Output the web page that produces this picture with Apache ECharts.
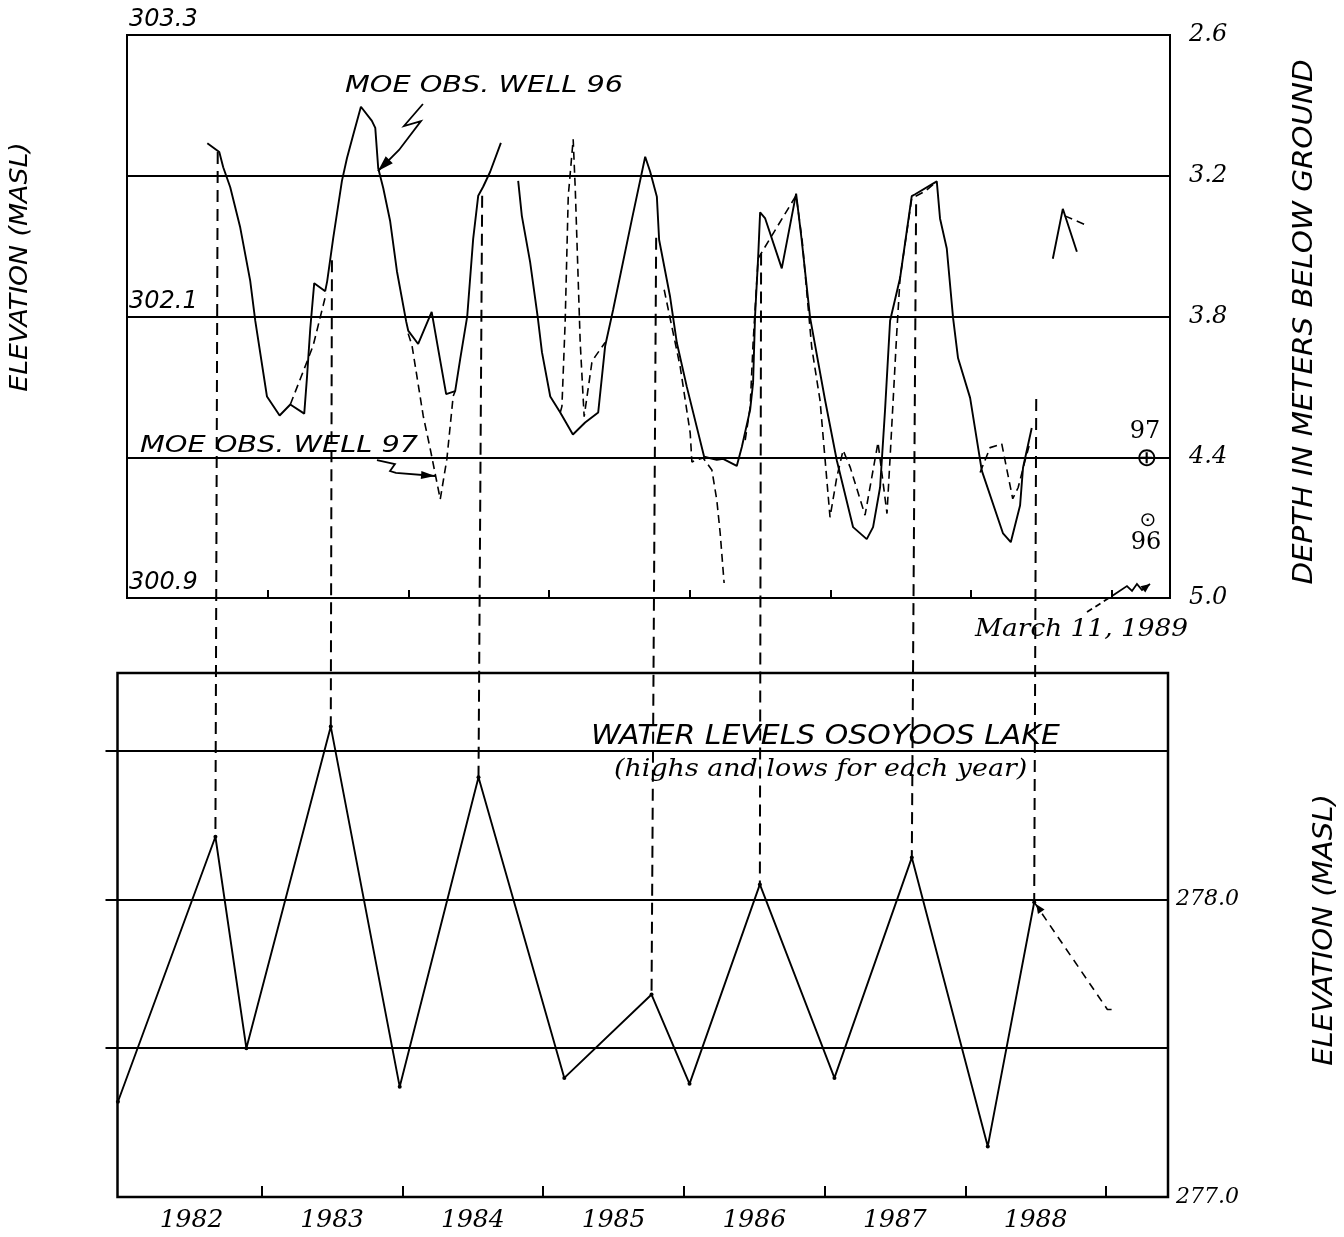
<!DOCTYPE html>
<html><head><meta charset="utf-8">
<script src="https://cdn.jsdelivr.net/npm/echarts@6/dist/echarts.min.js"></script>
<style>html,body{margin:0;padding:0;background:#fff}#c{width:1344px;height:1237px}</style>
</head><body><div id="c"></div>
<script>
// ---------- DATA (year, depth below ground in m) ----------
const well96A = [[1982.571,3.061],[1982.656,3.099],[1982.684,3.164],[1982.734,3.249],[1982.805,3.421],[1982.876,3.648],[1982.912,3.819],[1982.995,4.141],[1983.085,4.222],[1983.161,4.175],[1983.260,4.214],[1983.279,4.064],[1983.303,3.850],[1983.331,3.658],[1983.409,3.692],[1983.423,3.650],[1983.466,3.466],[1983.528,3.222],[1983.564,3.124],[1983.608,3.026],[1983.663,2.906],[1983.741,2.966],[1983.765,2.996],[1983.786,3.168],[1983.822,3.253],[1983.871,3.394],[1983.919,3.607],[1983.985,3.822],[1983.999,3.860],[1984.070,3.917],[1984.166,3.780],[1984.212,3.938],[1984.269,4.131],[1984.333,4.118],[1984.369,3.981],[1984.419,3.798],[1984.461,3.469],[1984.497,3.285],[1984.532,3.247],[1984.582,3.183],[1984.658,3.060]];
const well96B = [[1984.781,3.222],[1984.807,3.371],[1984.866,3.568],[1984.920,3.803],[1984.950,3.952],[1985.009,4.141],[1985.080,4.209],[1985.170,4.303],[1985.257,4.252],[1985.350,4.209],[1985.399,3.927],[1985.456,3.771],[1985.589,3.387],[1985.684,3.119],[1985.719,3.182],[1985.767,3.290],[1985.783,3.473],[1985.861,3.716],[1985.909,3.912],[1985.980,4.100],[1986.103,4.398],[1986.193,4.411],[1986.238,4.407],[1986.335,4.437],[1986.371,4.356],[1986.430,4.198],[1986.451,4.083],[1986.465,3.799],[1986.487,3.548],[1986.501,3.356],[1986.537,3.382],[1986.655,3.595],[1986.757,3.276],[1986.797,3.476],[1986.856,3.804],[1986.963,4.157],[1987.046,4.413],[1987.162,4.698],[1987.259,4.749],[1987.304,4.698],[1987.354,4.528],[1987.389,4.200],[1987.425,3.818],[1987.496,3.636],[1987.579,3.287],[1987.603,3.279],[1987.757,3.224],[1987.780,3.382],[1987.828,3.510],[1987.873,3.807],[1987.908,3.977],[1987.994,4.147],[1988.077,4.457],[1988.228,4.725],[1988.283,4.762],[1988.349,4.606],[1988.370,4.445],[1988.432,4.275]];
const well96C = [[1988.582,3.554],[1988.653,3.341],[1988.753,3.524]];
const well97A = [[1983.161,4.175],[1983.253,4.034],[1983.324,3.923],[1983.395,3.752],[1983.416,3.701]];
const well97B = [[1983.999,3.873],[1984.026,3.923],[1984.106,4.224],[1984.156,4.365],[1984.227,4.579],[1984.274,4.408],[1984.319,4.139],[1984.333,4.118]];
const well97C = [[1985.080,4.209],[1985.092,4.183],[1985.115,3.824],[1985.137,3.287],[1985.172,3.045],[1985.187,3.258],[1985.222,3.911],[1985.250,4.227],[1985.305,3.996],[1985.328,3.971],[1985.399,3.911]];
const well97D = [[1985.819,3.686],[1985.933,4.015],[1986.004,4.297],[1986.016,4.420],[1986.051,4.411],[1986.096,4.403],[1986.158,4.454],[1986.193,4.582],[1986.217,4.723],[1986.245,4.936]];
const well97E = [[1986.395,4.327],[1986.430,4.187],[1986.451,3.914],[1986.487,3.552],[1986.757,3.284],[1986.800,3.476],[1986.868,3.932],[1986.927,4.158],[1986.998,4.656],[1987.046,4.486],[1987.091,4.370],[1987.141,4.442],[1987.247,4.647],[1987.339,4.337],[1987.403,4.640],[1987.425,4.402],[1987.472,3.874],[1987.496,3.636],[1987.579,3.296],[1987.674,3.266],[1987.757,3.224]];
const well97F = [[1988.065,4.465],[1988.136,4.359],[1988.219,4.343],[1988.254,4.449],[1988.297,4.577],[1988.335,4.530],[1988.384,4.415],[1988.413,4.352]];
const well97G = [[1988.667,3.371],[1988.830,3.413]];
// Osoyoos Lake highs and lows (year, elevation m)
const lakeLevels = [[1981.977,277.32],[1982.67,278.21],[1982.89,277.50],[1983.49,278.58],[1983.98,277.37],[1984.54,278.41],[1985.15,277.40],[1985.77,277.68],[1986.04,277.38],[1986.54,278.05],[1987.07,277.40],[1987.62,278.14],[1988.16,277.17],[1988.49,277.99]];
const lakeProjected = [[1988.49,277.99],[1989.01,277.63],[1989.07,277.63]];
// tops of the dashed connectors (well graph, year/depth); each drops to a lake high
const connectorTops = [[1982.645,3.099],[1983.457,3.560],[1984.525,3.285],[1985.762,3.464],[1986.508,3.531],[1987.610,3.321],[1988.464,4.152]];
// annotation pointer paths (year/depth in the upper graph)
const pointer96 = [[1984.104,2.894],[1983.969,2.988],[1984.090,2.967],[1983.934,3.090],[1983.784,3.180]];
const pointer97 = [[1983.777,4.412],[1983.905,4.429],[1983.870,4.459],[1983.912,4.467],[1984.190,4.480]];
const pointerMarchDash = [[1988.825,5.060],[1989.003,4.991]];
const pointerMarch = [[1989.003,4.991],[1989.109,4.949],[1989.145,4.970],[1989.180,4.940],[1989.216,4.966],[1989.273,4.940]];
// ticks / labels
const yearTicks = [1983,1984,1985,1986,1987,1988,1989];
const yearLabelPos = [1982.5,1983.5,1984.5,1985.5,1986.5,1987.5,1988.5];
const lakeLabelVals = [277,278];
const lakeSideTicks = [277.5,278,278.5];

const serif = 'DejaVu Serif', sans = 'DejaVu Sans';
const chart = echarts.init(document.getElementById('c'), null, {renderer:'canvas'});

function ls(data, dashed, xi, yi){
  return {type:'line', xAxisIndex:xi, yAxisIndex:yi, data:data, symbol:'none', showSymbol:false,
    lineStyle:{color:'#000', width: dashed?1.6:1.9, type: dashed?[8,5]:'solid'}, z:3, silent:true};
}
const series = [
  ls(well96A,false,0,0), ls(well96B,false,0,0), ls(well96C,false,0,0),
  ls(well97A,true,0,0), ls(well97B,true,0,0), ls(well97C,true,0,0), ls(well97D,true,0,0),
  ls(well97E,true,0,0), ls(well97F,true,0,0), ls(well97G,true,0,0),
  {type:'line', xAxisIndex:1, yAxisIndex:2, data:lakeLevels, symbol:'circle', symbolSize:4, showSymbol:true,
   itemStyle:{color:'#000'}, lineStyle:{color:'#000', width:1.9}, z:3, silent:true},
  {type:'line', xAxisIndex:1, yAxisIndex:2, data:lakeProjected, symbol:'none', showSymbol:false,
   lineStyle:{color:'#000', width:1.6, type:[8,6]}, z:3, silent:true}
];
const LAKE = 10;

chart.setOption({
  animation:false,
  backgroundColor:'#fff',
  grid:[
    {left:127, top:35, width:1043, height:563, show:true, borderColor:'#000', borderWidth:2, backgroundColor:'transparent'},
    {left:117.5, top:673, width:1050.5, height:524, show:true, borderColor:'#000', borderWidth:2.5, backgroundColor:'transparent'}
  ],
  xAxis:[
    {gridIndex:0, type:'value', min:1982, max:1989.415, axisLine:{show:false},
     axisTick:{show:true, inside:true, length:8, customValues:yearTicks, lineStyle:{color:'#000', width:2}},
     axisLabel:{show:false}, splitLine:{show:false}},
    {gridIndex:1, type:'value', min:1981.974, max:1989.441, axisLine:{show:false},
     axisTick:{show:true, inside:true, length:11, customValues:yearTicks, lineStyle:{color:'#000', width:2}},
     axisLabel:{show:true, customValues:yearLabelPos, formatter:function(v){return String(Math.floor(v+1e-6));},
       color:'#000', fontFamily:serif, fontStyle:'italic', fontSize:25, margin:11},
     splitLine:{show:false}}
  ],
  yAxis:[
    {gridIndex:0, type:'value', position:'right', inverse:true, min:2.6, max:5.0, interval:0.6,
     axisLine:{show:false}, axisTick:{show:false},
     splitLine:{show:true, lineStyle:{color:'#000', width:2}},
     axisLabel:{formatter:function(v){return v.toFixed(1);}, color:'#000', fontFamily:serif, fontStyle:'italic', fontSize:24, margin:19}},
    {gridIndex:0, type:'value', position:'left', min:300.9, max:303.3, interval:1.2,
     axisLine:{show:false}, axisTick:{show:false}, splitLine:{show:false},
     axisLabel:{inside:true, verticalAlign:'bottom', formatter:function(v){return v.toFixed(1);}, color:'#000',
       fontFamily:sans, fontStyle:'italic', fontSize:24, margin:2, padding:[0,0,3,0]}},
    {gridIndex:1, type:'value', position:'right', min:277, max:278.76, interval:0.5,
     axisLine:{show:false}, axisTick:{show:false},
     splitLine:{show:true, lineStyle:{color:'#000', width:2}},
     axisLabel:{customValues:lakeLabelVals, formatter:function(v){return v.toFixed(1);}, color:'#000',
       fontFamily:serif, fontStyle:'italic', fontSize:22, margin:8}},
    {gridIndex:1, type:'value', position:'left', min:277, max:278.76, interval:0.5,
     axisLine:{show:false}, axisTick:{show:true, customValues:lakeSideTicks, length:12, lineStyle:{color:'#000', width:2}},
     axisLabel:{show:false}, splitLine:{show:false}}
  ],
  series:series
});

// ---------- overlays drawn through the chart's own scales ----------
const P = function(si, pt){ return chart.convertToPixel({seriesIndex:si}, pt); };
const g = [];
function arrowHead(p, q, len, half){
  const dx=q[0]-p[0], dy=q[1]-p[1]; const L=Math.hypot(dx,dy)||1; const ux=dx/L, uy=dy/L;
  const bx=q[0]-ux*len, by=q[1]-uy*len;
  return {type:'polygon', z:20, shape:{points:[[q[0],q[1]],[bx-uy*half,by+ux*half],[bx+uy*half,by-ux*half]]}, style:{fill:'#000'}};
}
function path(pts, dash, w){
  return {type:'polyline', z:20, shape:{points:pts}, style:{stroke:'#000', fill:null, lineWidth:w||1.8, lineDash:dash||null}};
}
// connectors
const highs = lakeLevels.filter(function(d,i){return i%2===1;});
connectorTops.forEach(function(t,i){
  const a = P(0,t), b = P(LAKE, highs[i]);
  g.push({type:'line', z:15, shape:{x1:a[0],y1:a[1],x2:b[0],y2:b[1]}, style:{stroke:'#000', lineWidth:2, lineDash:[12,7]}});
});
// pointers
const p96 = pointer96.map(function(d){return P(0,d);});
g.push(path(p96)); g.push(arrowHead(p96[p96.length-2], p96[p96.length-1], 16, 5));
const p97 = pointer97.map(function(d){return P(0,d);});
g.push(path(p97)); g.push(arrowHead(p97[p97.length-2], p97[p97.length-1], 14, 4));
const pmd = pointerMarchDash.map(function(d){return P(0,d);});
g.push(path(pmd,[6,4]));
const pm = pointerMarch.map(function(d){return P(0,d);});
g.push(path(pm)); g.push(arrowHead(pm[pm.length-2], pm[pm.length-1], 9, 4));
const lp0 = P(LAKE, lakeProjected[1]), lp1 = P(LAKE, lakeProjected[0]);
g.push(arrowHead(lp0, [lp1[0]+2, lp1[1]+2], 9, 4));

// texts
function txt(s, x, y, font, opt){
  opt = opt || {};
  return {type:'text', z:25, x:x, y:y, rotation:opt.rot||0, scaleX:opt.sx||1, scaleY:1,
    style:{text:s, x:0, y:0, font:font, fill:'#000', align:opt.align||'left', textAlign:opt.align||'left',
      verticalAlign:opt.va||'middle', textVerticalAlign:opt.va||'middle'}};
}
g.push(txt('ELEVATION (MASL)', 20, 267, 'italic 25px "DejaVu Sans"', {rot:Math.PI/2, align:'center', sx:1.07}));
g.push(txt('DEPTH IN METERS BELOW GROUND', 1305, 322, 'italic 26px "DejaVu Sans"', {rot:Math.PI/2, align:'center', sx:1.13}));
g.push(txt('ELEVATION (MASL)', 1325, 930, 'italic 26px "DejaVu Sans"', {rot:Math.PI/2, align:'center', sx:1.12}));
g.push(txt('MOE OBS. WELL 96', 345, 98, 'italic 23px "DejaVu Sans"', {va:'bottom', sx:1.25}));
g.push(txt('MOE OBS. WELL 97', 140, 458, 'italic 23px "DejaVu Sans"', {va:'bottom', sx:1.25}));
g.push(txt('WATER LEVELS OSOYOOS LAKE', 591, 750, 'italic 26px "DejaVu Sans"', {va:'bottom', sx:1.15}));
g.push(txt('(highs and lows for each year)', 614, 770, 'italic 24px "DejaVu Serif"', {sx:1.12}));
g.push(txt('March 11, 1989', 975, 630, 'italic 24px "DejaVu Serif"', {sx:1.1}));
g.push(txt('97', 1145, 432, '24px "DejaVu Serif"', {align:'center'}));
g.push(txt('\u2295', 1147, 459, '26px "DejaVu Sans"', {align:'center'}));
g.push(txt('\u2299', 1148, 521, '20px "DejaVu Sans"', {align:'center'}));
g.push(txt('96', 1146, 543, '24px "DejaVu Serif"', {align:'center'}));

chart.setOption({graphic:g});
</script>
</body></html>
